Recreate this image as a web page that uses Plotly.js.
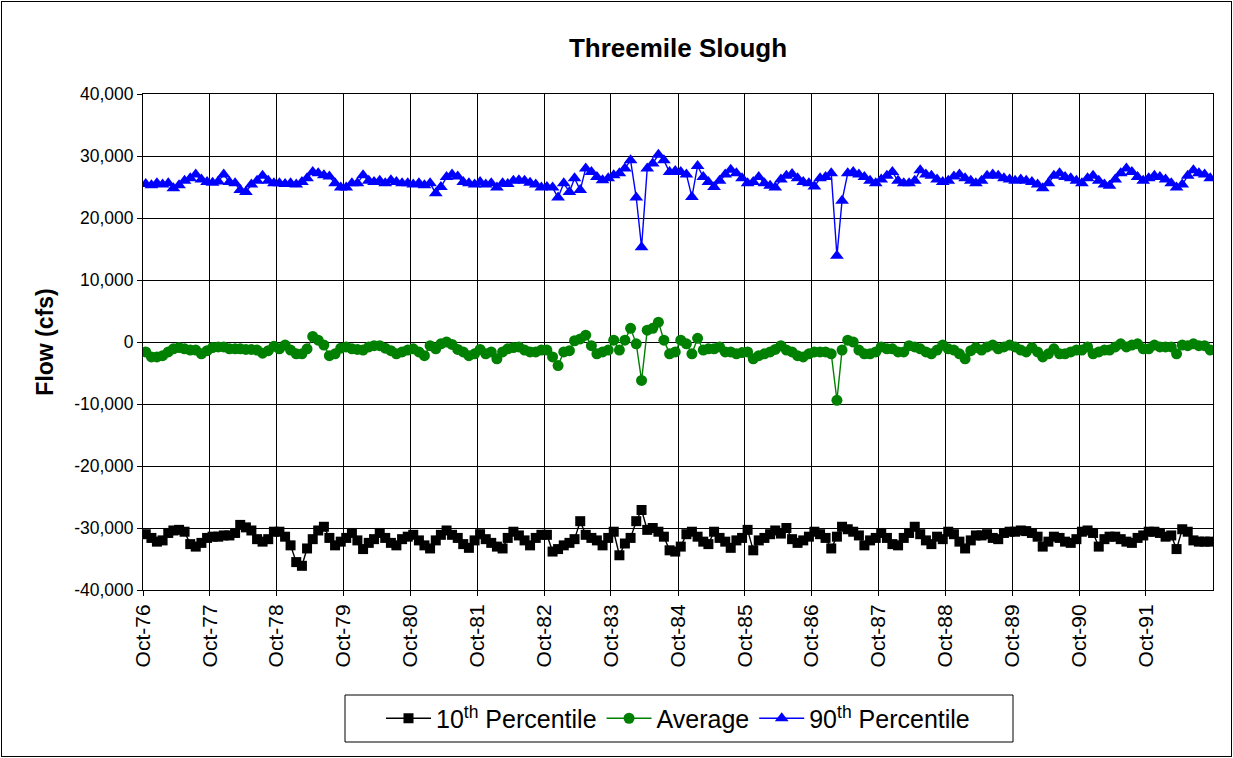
<!DOCTYPE html>
<html>
<head>
<meta charset="utf-8">
<script src="https://cdn.plot.ly/plotly-3.0.1.min.js"></script>
<style>
  html, body { margin: 0; padding: 0; background: #fff; }
  #wrap { position: relative; width: 1233px; height: 758px; }
  #frame { position: absolute; left: 1px; top: 1px; width: 1229px; height: 754px; border: 1px solid #000; pointer-events: none; }
  #chart { position: absolute; left: 0; top: 0; width: 1233px; height: 758px; }
</style>
</head>
<body>
<div id="wrap"><div id="chart"></div><div id="frame"></div></div>
<script>
// ---- Data (cfs), monthly Oct-76 .. Sep-92 ----
const seriesNames = ['10<sup>th</sup> Percentile', 'Average', '90<sup>th</sup> Percentile'];

const p10 = [
 -31000,-31600,-32200,-32000,-30800,-30400,-30300,-30600,-32600,-33000,-32400,-31600,
 -31400,-31400,-31200,-31200,-30800,-29500,-29900,-30400,-31800,-32200,-31800,-30600,
 -30600,-31400,-32800,-35500,-36100,-33300,-31800,-30400,-29800,-31600,-32800,-32200,
 -31600,-30800,-32000,-33400,-32400,-31800,-30800,-31600,-32400,-32800,-31800,-31400,
 -31100,-32000,-32800,-33300,-32000,-31100,-30400,-31100,-31600,-32600,-33200,-32000,
 -31000,-31800,-32400,-33000,-33300,-31600,-30600,-31200,-32000,-32800,-31600,-31100,
 -31100,-33800,-33400,-32800,-32400,-31800,-28900,-31100,-31600,-32000,-32800,-31600,
 -30600,-34400,-32500,-31600,-28900,-27100,-30300,-30000,-30600,-31400,-33600,-33800,
 -33000,-31000,-30600,-31400,-32200,-32600,-30600,-31600,-32200,-33200,-32000,-31600,
 -30300,-33600,-32000,-31600,-31000,-30400,-30900,-30000,-31800,-32400,-32000,-31400,
 -30600,-31000,-31600,-33300,-31400,-29800,-30200,-30600,-31200,-32800,-32000,-31600,
 -30800,-31600,-32600,-32800,-31600,-30800,-29800,-31000,-32000,-32600,-31400,-31800,
 -30600,-31000,-32200,-33300,-32000,-31200,-31200,-31000,-31600,-31800,-30800,-30600,
 -30600,-30400,-30500,-30800,-31400,-33000,-32200,-31400,-31600,-32200,-32400,-31800,
 -30600,-30400,-30800,-33000,-31800,-31400,-31400,-31800,-32200,-32400,-31600,-31200,
 -30600,-30600,-30800,-31400,-31200,-33400,-30200,-30600,-32000,-32200,-32200,-32200
];

const avg = [
 -1600,-2400,-2400,-2200,-1600,-1100,-900,-1100,-1300,-1300,-1900,-1400,
 -900,-800,-800,-1100,-1100,-1100,-1200,-1200,-1300,-1800,-1400,-700,
 -1100,-500,-1300,-1900,-1900,-1100,900,300,-500,-2200,-1900,-1000,
 -800,-1100,-1200,-1300,-800,-600,-600,-1000,-1400,-1900,-1600,-1300,
 -1100,-1600,-2200,-600,-1100,-300,0,-400,-1200,-1600,-2200,-1900,
 -1200,-1900,-1600,-2700,-1600,-1100,-900,-800,-1300,-1600,-1600,-1300,
 -1300,-2400,-3800,-1600,-1400,200,500,1100,-600,-1900,-1600,-1300,
 300,-1300,300,2200,-300,-6200,1900,2200,3200,300,-1900,-1600,
 300,-300,-1900,600,-1300,-1100,-1100,-800,-1600,-1600,-1900,-1700,
 -1600,-2700,-2200,-1900,-1600,-1200,-600,-1300,-1600,-2200,-2400,-1900,
 -1600,-1600,-1600,-1900,-9400,-1300,300,0,-1300,-1900,-1900,-1600,
 -800,-1100,-1100,-1600,-1600,-600,-800,-1100,-1600,-1900,-1300,-500,
 -1100,-1300,-1900,-2700,-1400,-900,-1300,-800,-500,-1100,-800,-500,
 -800,-1300,-1600,-900,-1600,-2400,-1900,-1100,-1900,-1900,-1600,-1300,
 -1300,-800,-1900,-1600,-1300,-1300,-800,-300,-800,-500,-300,-1100,
 -1100,-500,-800,-800,-800,-1900,-500,-600,-300,-600,-600,-1300
];

const p90 = [
 25500,25300,25600,25400,25600,24800,25300,26000,26400,27000,26200,25800,
 25700,25900,27000,25800,25600,24500,24200,25400,26000,26800,26000,25600,
 25600,25500,25600,25400,25800,26400,27400,27200,26900,26700,25600,24900,
 24900,25600,25600,26900,26000,25800,26000,25600,26100,25800,25600,25600,
 25400,25600,25300,25600,24000,25000,26600,27000,26700,25800,25600,25400,
 25800,25400,25600,24900,25600,25500,26000,26100,26000,25700,25400,24900,
 25000,24900,23300,25600,24200,26400,24500,28000,27400,26600,26100,26400,
 26900,27200,28000,29300,23300,15300,28000,28800,30200,29300,27400,27600,
 27400,27000,23400,28400,26600,25800,25000,26000,27000,27800,27200,26400,
 25600,25800,26600,25600,25200,24900,26200,26800,27100,26400,25800,25600,
 25100,26400,26600,27200,13900,22800,27200,27400,27000,26600,26000,25600,
 26200,26800,27400,26000,25600,25600,26000,27700,27000,26800,26200,25800,
 26000,26700,27000,26400,26000,25600,26000,26800,27000,26800,26400,26200,
 26000,26200,26000,25800,25400,24800,25600,26800,27200,26600,26400,26000,
 25600,26400,26800,26000,25400,25200,26200,27200,28000,27400,26600,26000,
 26400,26800,26600,26200,25600,24900,25400,26800,27700,27200,27000,26400
];

// Month categories (mid-month dates), Oct-76 .. Sep-92
const months = [];
for (let k = 0; k < p10.length; k++) {
  const yr = 1976 + Math.floor((9 + k) / 12);
  const mo = (9 + k) % 12 + 1;
  months.push(yr + '-' + String(mo).padStart(2, '0') + '-16');
}

// Tick labels
const xTickVals = ['1976-10-01','1977-10-01','1978-10-01','1979-10-01','1980-10-01','1981-10-01','1982-10-01','1983-10-01',
                   '1984-10-01','1985-10-01','1986-10-01','1987-10-01','1988-10-01','1989-10-01','1990-10-01','1991-10-01'];
const xTickText = ['Oct-76','Oct-77','Oct-78','Oct-79','Oct-80','Oct-81','Oct-82','Oct-83',
                   'Oct-84','Oct-85','Oct-86','Oct-87','Oct-88','Oct-89','Oct-90','Oct-91'];
const yTickVals = [-40000,-30000,-20000,-10000,0,10000,20000,30000,40000];
const yTickText = ['-40,000','-30,000','-20,000','-10,000','0','10,000','20,000','30,000','40,000'];

const FONT = 'Liberation Sans, Arial, sans-serif';

const traces = [
  { x: months, y: p10, name: seriesNames[0], type: 'scatter', mode: 'lines+markers',
    line: { color: '#000000', width: 1.4 }, marker: { symbol: 'square', size: 10, color: '#000000' } },
  { x: months, y: avg, name: seriesNames[1], type: 'scatter', mode: 'lines+markers',
    line: { color: '#008000', width: 1.4 }, marker: { symbol: 'circle', size: 11, color: '#008000' } },
  { x: months, y: p90, name: seriesNames[2], type: 'scatter', mode: 'lines+markers',
    line: { color: '#0000FF', width: 1.4 }, marker: { symbol: 'triangle-up', size: 12, color: '#0000FF' } }
];

const L = 143, R = 1213, T = 94, B = 590;
const pw = R - L, ph = B - T;
const px = v => (v - L) / pw;
const py = v => (B - v) / ph;

const layout = {
  width: 1233, height: 758,
  margin: { l: L, r: 1233 - R, t: T, b: 758 - B, pad: 0 },
  paper_bgcolor: '#ffffff', plot_bgcolor: '#ffffff',
  font: { family: FONT, color: '#000000', size: 18 },
  showlegend: true,
  title: { text: 'Threemile Slough', x: 0.5, xref: 'paper', xanchor: 'center',
           y: 1 - 48 / 758, yref: 'container', yanchor: 'middle',
           font: { family: FONT, size: 26, weight: 'bold', color: '#000' } },
  xaxis: {
    type: 'date', range: ['1976-10-01', '1992-10-01'],
    tickmode: 'array', tickvals: xTickVals, ticktext: xTickText, tickangle: -90,
    ticks: 'outside', ticklen: 5, tickcolor: '#000', tickwidth: 1,
    showgrid: true, gridcolor: '#000000', gridwidth: 1,
    showline: true, linecolor: '#000', linewidth: 1, mirror: true,
    zeroline: false, tickfont: { family: FONT, size: 21, color: '#000' }, fixedrange: true
  },
  yaxis: {
    range: [-40000, 40000],
    tickmode: 'array', tickvals: yTickVals, ticktext: yTickText,
    ticks: 'outside', ticklen: 5, tickcolor: '#000', tickwidth: 1,
    showgrid: true, gridcolor: '#000000', gridwidth: 1,
    showline: true, linecolor: '#000', linewidth: 1, mirror: true,
    zeroline: false, tickfont: { family: FONT, size: 17.5, color: '#000' },
    title: { text: 'Flow (cfs)', standoff: 14, font: { family: FONT, size: 23, weight: 'bold', color: '#000' } },
    fixedrange: true
  },
  legend: {
    orientation: 'h', x: 0.5, xanchor: 'center', xref: 'paper',
    y: py(718.5), yanchor: 'middle', yref: 'paper',
    bgcolor: 'rgba(0,0,0,0)', borderwidth: 0,
    font: { family: FONT, size: 25, color: '#000' }, itemwidth: 45
  },
  shapes: [
    { type: 'rect', xref: 'paper', yref: 'paper', x0: px(345), x1: px(1013), y0: py(742), y1: py(695),
      line: { color: '#000', width: 1 }, fillcolor: 'rgba(0,0,0,0)', layer: 'above' }
  ]
};

Plotly.newPlot('chart', traces, layout, { staticPlot: true, displayModeBar: false });
</script>
</body>
</html>
